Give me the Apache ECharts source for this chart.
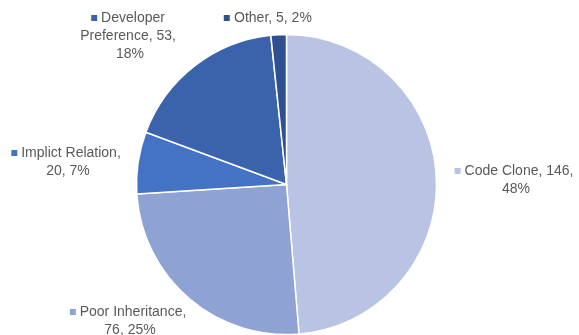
<!DOCTYPE html>
<html>
<head>
<meta charset="utf-8">
<script src="https://cdn.jsdelivr.net/npm/echarts@6/dist/echarts.min.js"></script>
<style>
html,body{margin:0;padding:0;background:#fff;}
#chart{width:579px;height:335px;}
</style>
</head>
<body>
<div id="chart"></div>
<script>
// Data
const categories = ['Code Clone', 'Poor Inheritance', 'Implict Relation', 'Developer Preference', 'Other'];
const values = [146, 76, 20, 53, 5];
const percents = ['48%', '25%', '7%', '18%', '2%'];
const colors = ['#b9c3e3', '#8fa2d4', '#4472c4', '#3b63ab', '#2f5090'];

// Label text wrap widths and anchor positions (layout only)
const labelWidths = [132, 130, 125, 112, 110];
const labelAnchors = [[516, 180], [130, 321], [68, 162], [130, 36], [268, 18]];

const chart = echarts.init(document.getElementById('chart'), null, {renderer: 'canvas'});

const data = categories.map((name, i) => ({
  name: name,
  value: values[i],
  itemStyle: {color: colors[i]},
  label: {
    width: labelWidths[i],
    rich: {
      sq: {backgroundColor: colors[i], width: 6, height: 6, padding: 0}
    }
  }
}));

chart.setOption({
  animation: false,
  backgroundColor: '#ffffff',
  series: [{
    type: 'pie',
    center: [286.5, 184.5],
    radius: 150,
    startAngle: 90,
    clockwise: true,
    data: data,
    itemStyle: {borderColor: '#ffffff', borderWidth: 1.5},
    emphasis: {disabled: true},
    labelLine: {show: false},
    label: {
      show: true,
      position: 'outside',
      overflow: 'break',
      align: 'center',
      color: '#595959',
      fontFamily: 'Liberation Sans, Arial, sans-serif',
      fontSize: 14,
      lineHeight: 18,
      formatter: function (p) {
        return '{sq|} ' + p.name + ', ' + p.value + ', ' + percents[p.dataIndex];
      }
    },
    labelLayout: function (params) {
      const a = labelAnchors[params.dataIndex];
      return {x: a[0], y: a[1], align: 'center', verticalAlign: 'middle', hideOverlap: false, moveOverlap: false};
    }
  }]
});
</script>
</body>
</html>
